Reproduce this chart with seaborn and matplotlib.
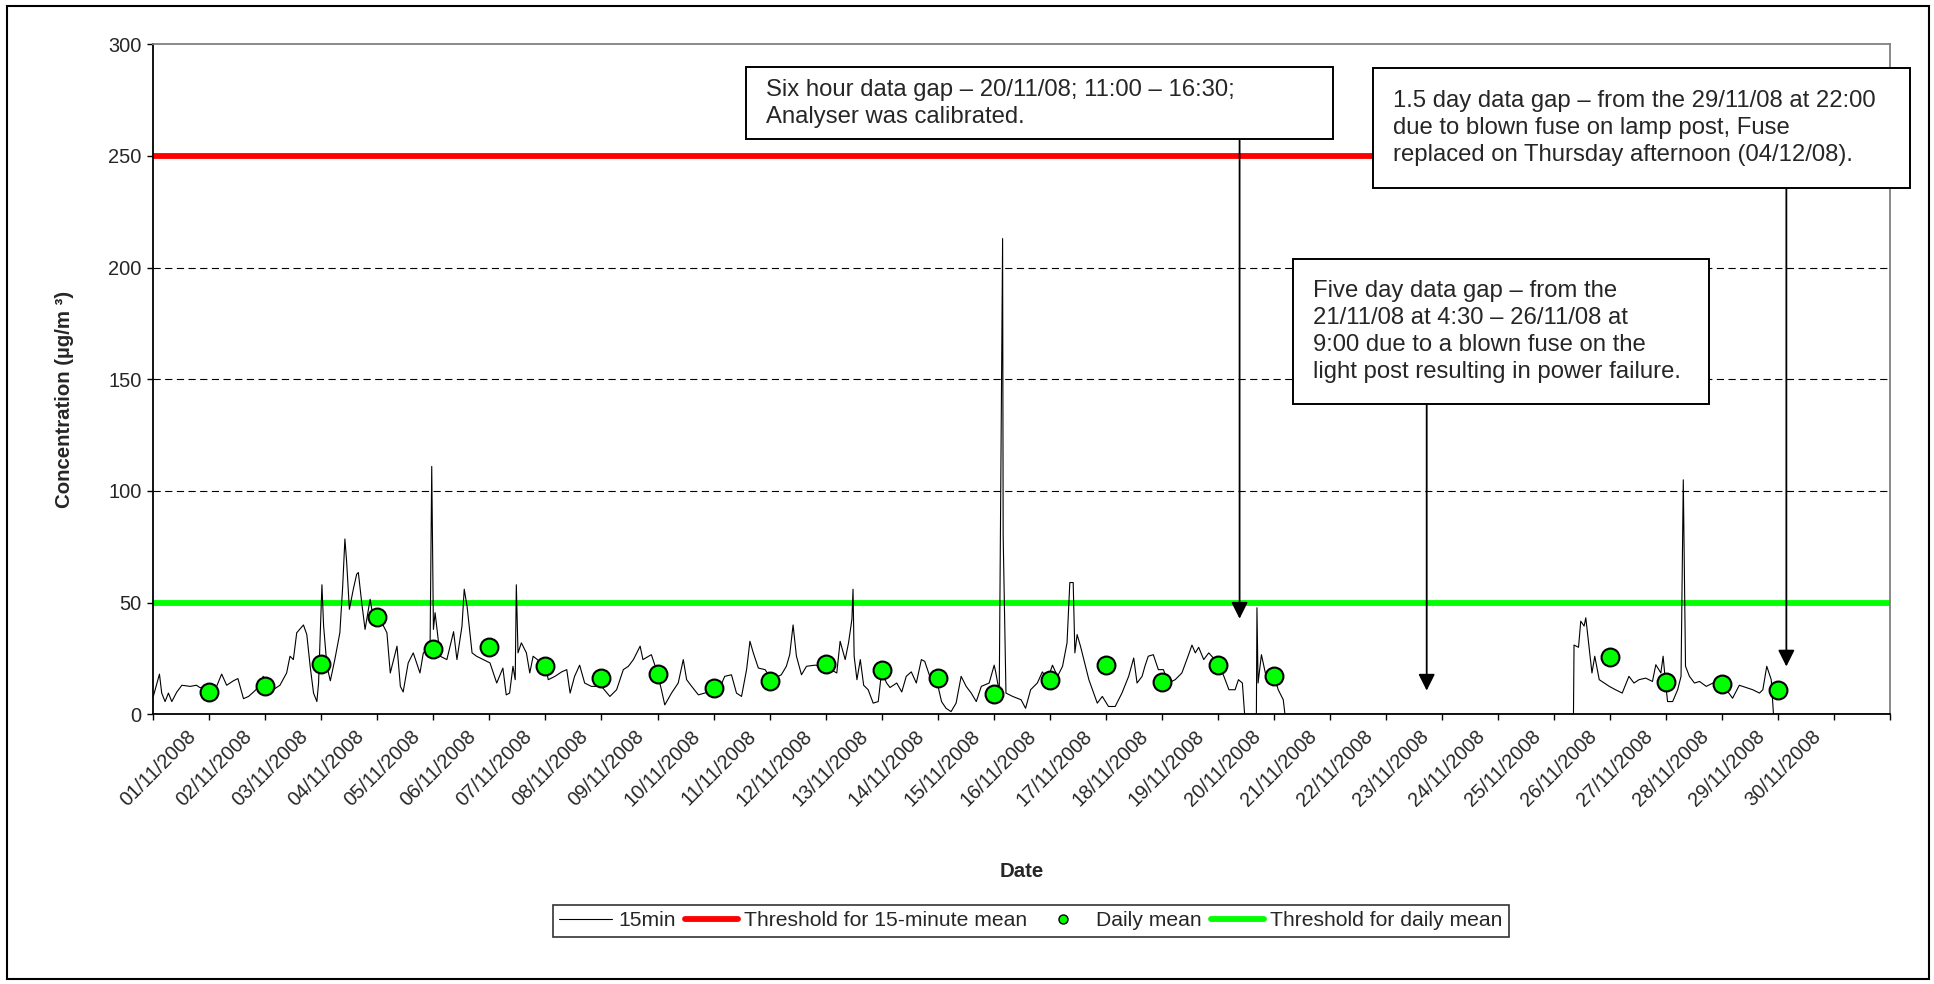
import matplotlib
matplotlib.use("Agg")
import matplotlib.pyplot as plt
from matplotlib.lines import Line2D
from matplotlib.patches import Rectangle
from matplotlib.transforms import ScaledTranslation
import seaborn as sns

# 15-minute concentrations, x = days from 01/11/2008 00:00
# (zeros are the data gaps, the logger wrote 0 while the analyser was off)
t_15min = [
    0.00, 0.11, 0.15, 0.21, 0.27, 0.33, 0.42, 0.51, 0.66, 0.77, 0.83, 1.00, 1.13, 1.22, 1.31,
    1.43, 1.51, 1.61, 1.70, 1.79, 1.91, 1.96, 2.14, 2.26, 2.38, 2.44, 2.50, 2.56, 2.68, 2.74,
    2.80, 2.86, 2.92, 2.95, 3.01, 3.04, 3.10, 3.16, 3.24, 3.33, 3.38, 3.42, 3.45, 3.50, 3.57,
    3.63, 3.66, 3.72, 3.78, 3.87, 3.93, 4.05, 4.17, 4.23, 4.35, 4.41, 4.46, 4.55, 4.64, 4.76,
    4.82, 4.94, 4.97, 5.00, 5.03, 5.12, 5.24, 5.36, 5.42, 5.51, 5.55, 5.60, 5.69, 5.77, 5.89,
    6.01, 6.13, 6.24, 6.30, 6.36, 6.42, 6.46, 6.48, 6.51, 6.57, 6.66, 6.72, 6.78, 6.93, 7.00,
    7.05, 7.17, 7.29, 7.38, 7.44, 7.52, 7.61, 7.70, 7.82, 8.00, 8.15, 8.27, 8.39, 8.48, 8.57,
    8.69, 8.74, 8.89, 8.98, 9.07, 9.13, 9.25, 9.37, 9.46, 9.52, 9.61, 9.73, 9.91, 9.99, 10.08,
    10.20, 10.32, 10.41, 10.50, 10.59, 10.65, 10.71, 10.80, 10.92, 11.04, 11.21, 11.30, 11.36,
    11.42, 11.48, 11.57, 11.66, 11.81, 11.99, 12.20, 12.26, 12.35, 12.41, 12.47, 12.49, 12.51,
    12.56, 12.62, 12.68, 12.76, 12.85, 12.94, 12.97, 13.00, 13.09, 13.15, 13.27, 13.36, 13.44,
    13.53, 13.62, 13.71, 13.77, 13.86, 13.98, 14.07, 14.15, 14.24, 14.33, 14.42, 14.51, 14.60,
    14.69, 14.78, 14.92, 15.01, 15.04, 15.10, 15.16, 15.17, 15.22, 15.34, 15.49, 15.57, 15.66,
    15.78, 15.87, 15.96, 16.05, 16.14, 16.23, 16.31, 16.36, 16.42, 16.45, 16.49, 16.55, 16.61,
    16.70, 16.85, 16.94, 17.05, 17.17, 17.29, 17.41, 17.50, 17.56, 17.65, 17.70, 17.76, 17.85,
    17.94, 18.03, 18.12, 18.24, 18.36, 18.47, 18.54, 18.60, 18.66, 18.75, 18.84, 19.00, 19.11,
    19.20, 19.31, 19.37, 19.44, 19.48, 19.69, 19.70, 19.72, 19.78, 19.85, 19.99, 20.08, 20.17,
    20.20, 25.35, 25.36, 25.44, 25.48, 25.54, 25.57, 25.62, 25.68, 25.73, 25.81, 25.90, 25.99,
    26.10, 26.22, 26.34, 26.43, 26.52, 26.64, 26.76, 26.82, 26.91, 26.95, 27.00, 27.03, 27.12,
    27.21, 27.27, 27.31, 27.35, 27.42, 27.51, 27.60, 27.72, 27.84, 27.96, 28.08, 28.19, 28.31,
    28.43, 28.55, 28.67, 28.73, 28.80, 28.88, 28.92, 31.00,
]
c_15min = [
    8, 18, 9.5, 5.7, 9.5, 5.7, 10, 13, 12.5, 13, 12, 11, 12.5, 18, 13,
    15, 16, 7, 8, 10, 13, 17, 11, 13, 18.5, 26, 24.5, 36.5, 40, 35.7,
    21.5, 9.5, 5.7, 14, 58, 39.5, 21.5, 15, 24.5, 36.5, 57, 78.5, 68.7, 47, 56,
    62.7, 63.5, 50, 38, 51.5, 42.5, 42.5, 36.5, 18.5, 30.5, 12.5, 10, 23, 27.5, 18.5,
    27.5, 29, 111, 38, 45.5, 26, 24.5, 37, 24.5, 39.5, 56, 48.5, 27.5, 26, 24.5,
    23, 14, 20.7, 8.7, 9.5, 21.5, 15.5, 58, 27.5, 32, 27.5, 18.5, 26, 23, 21.5,
    15.5, 17, 19, 20, 9.5, 17, 22, 14, 12.5, 12.5, 8, 11, 20, 21.5, 24.5,
    30.5, 24.5, 26.7, 20, 11, 4.2, 9.5, 14, 24.5, 15.5, 12.5, 8.7, 10, 8, 10,
    17, 17.7, 9.5, 8, 20, 32.7, 27.5, 20.7, 20, 15.5, 17.7, 21.5, 26.7,
    40, 26, 17.7, 21.5, 22, 21.5, 18.5, 32.7, 24.5, 32, 42.5, 56, 26,
    15.5, 24.5, 13, 11, 5, 5.7, 12.5, 19, 14, 12, 14, 10, 17,
    19, 14, 24.5, 23.7, 17, 15.5, 5.7, 2.7, 1.2, 5, 17, 12.5, 9.5,
    5.7, 12.5, 14, 22, 18.5, 10, 213, 80, 9.5, 8, 6.5, 2.7, 11,
    14, 19, 15.5, 22, 17, 21.5, 32, 59, 59, 27.5, 35.7, 30.5, 24.5,
    15.5, 5, 8, 3.5, 3.5, 9.5, 17, 25.2, 14, 17, 21.5, 26, 26.7,
    20, 20, 14, 15.5, 18.5, 26, 31, 27.5, 30, 24.5, 27.5, 23, 17,
    11, 11, 15.5, 14, 0, 0, 47.7, 14, 26.7, 18.5, 18.5, 11, 6.5,
    0, 0, 31, 30, 41.7, 39.5, 43.2, 32, 18.5, 26, 15.5, 14, 12.5,
    11, 9.5, 17, 14, 15.5, 16.2, 14.7, 22.2, 18.5, 26, 12.5, 5.7, 5.7,
    11, 17, 105, 21.5, 17, 14, 14.7, 12.5, 14, 12.5, 11, 7.2, 13,
    12, 11, 9.5, 11, 21.5, 15.5, 0, 0,
]

# daily means, drawn on the day ticks as in the original sheet
mean_days = [1, 2, 3, 4, 5, 6, 7, 8, 9, 10, 11, 12, 13, 14, 15, 16, 17, 18, 19, 20, 26, 27, 28, 29]
mean_vals = [9.9, 12.7, 22.3, 43.4, 29.4, 30.3, 21.5, 16.2, 18.1, 11.8, 15.1, 22.3,
             19.7, 16.1, 9.2, 15.2, 22.2, 14.3, 22.2, 17.0, 25.7, 14.3, 13.4, 10.7]

threshold_15min = 250
threshold_daily = 50

day_ticks = list(range(0, 32))
day_labels = [""] + [f"{d:02d}/11/2008" for d in range(1, 31)] + [""]

notes = [
    "Six hour data gap \u2013 20/11/08; 11:00 \u2013 16:30;\nAnalyser was calibrated.",
    "1.5 day data gap \u2013 from the 29/11/08 at 22:00\ndue to blown fuse on lamp post, Fuse\n"
    "replaced on Thursday afternoon (04/12/08).",
    "Five day data gap \u2013 from the\n21/11/08 at 4:30 \u2013 26/11/08 at\n"
    "9:00 due to a blown fuse on the\nlight post resulting in power failure.",
]
arrow_days = [19.39, 29.15, 22.73]
arrow_tips = [42.8, 21.4, 10.6]

W, H = 1934, 984

sns.set_style("ticks")
plt.rcParams["font.family"] = ["Liberation Sans", "DejaVu Sans"]

fig = plt.figure(figsize=(W / 100, H / 100), dpi=100)
ax = fig.add_axes([153.3 / W, 1 - 714.3 / H, 1736.7 / W, 670 / H])

sns.lineplot(x=t_15min, y=c_15min, ax=ax, color="black", linewidth=0.8,
             estimator=None, sort=False, legend=False, zorder=3)
ax.axhline(threshold_15min, color="#FF0000", lw=4.2, zorder=2, solid_capstyle="round")
ax.axhline(threshold_daily, color="#00FF00", lw=4.2, zorder=2, solid_capstyle="round")
sns.scatterplot(x=mean_days, y=mean_vals, ax=ax, s=165, color="#00FF00",
                edgecolor="black", linewidth=1.5, legend=False, zorder=5)

ax.set_xlim(0, 31)
ax.set_ylim(0, 300)
ax.set_yticks(range(0, 301, 50))
ax.set_xticks(day_ticks)
ax.set_xticklabels(day_labels, rotation=45, ha="right", va="center", rotation_mode="anchor")
ax.tick_params(axis="both", direction="out", length=4.5, width=1, color="black",
               labelsize=14.4, pad=4)
ax.tick_params(axis="x", pad=9)
# Excel put the date labels a little left of their tick
shift = ScaledTranslation(-0.16, 0, fig.dpi_scale_trans)
for lab in ax.get_xticklabels():
    lab.set_transform(lab.get_transform() + shift)

ax.yaxis.grid(True, color="black", lw=0.8, linestyle=(0, (6.5, 4)))
gl = ax.yaxis.get_gridlines()
gl[0].set_visible(False)
gl[-1].set_visible(False)

for side in ["left", "bottom"]:
    ax.spines[side].set_color("black")
    ax.spines[side].set_linewidth(1.3)
for side in ["top", "right"]:
    ax.spines[side].set_color("#808080")
    ax.spines[side].set_linewidth(1.3)

ax.set_xlabel("Date", fontsize=14.7, fontweight="bold", labelpad=0)
ax.xaxis.set_label_coords(0.5, -(862 - 714.3) / 670)
ax.set_ylabel("Concentration (\u00b5g/m \u00b3)", fontsize=14.7, fontweight="bold")
ax.yaxis.set_label_coords(-(153.3 - 73.7) / 1736.7, 0.47)

# annotation boxes, in figure pixels (left, top, right, bottom)
boxes = [(746, 67.3, 1332.6, 139.3), (1373, 67.7, 1910, 187.7), (1293, 259.3, 1708.5, 404)]
for (l, t, r, b), note in zip(boxes, notes):
    fig.patches.append(Rectangle((l / W, 1 - b / H), (r - l) / W, (b - t) / H,
                                 transform=fig.transFigure, facecolor="white",
                                 edgecolor="black", lw=1.4, zorder=10))
    fig.text((l + 20) / W, 1 - (t + b) / 2 / H, note, ha="left", va="center",
             fontsize=17.2, linespacing=1.3, zorder=11)

for (l, t, r, b), xd, tip in zip(boxes, arrow_days, arrow_tips):
    y0 = (714.3 - b) / 670
    ax.annotate("", xy=(xd, tip), xycoords="data", xytext=(xd, y0),
                textcoords=("data", "axes fraction"),
                arrowprops=dict(arrowstyle="-|>,head_length=0.5,head_width=0.25",
                                mutation_scale=20, color="black", lw=1.3,
                                shrinkA=0, shrinkB=0), zorder=12)

handles = [
    Line2D([], [], color="black", lw=0.8),
    Line2D([], [], color="#FF0000", lw=4.2, solid_capstyle="round"),
    Line2D([], [], marker="o", linestyle="none", markersize=6.5,
           markerfacecolor="#00FF00", markeredgecolor="black", markeredgewidth=1),
    Line2D([], [], color="#00FF00", lw=4.2, solid_capstyle="round"),
]
labels = ["15min", "Threshold for 15-minute mean", "Daily mean", "Threshold for daily mean"]
leg = fig.legend(handles, labels, loc="center", bbox_to_anchor=(1031 / W, 1 - 921 / H),
                 ncol=4, fontsize=15.2, frameon=True, fancybox=False, edgecolor="black",
                 handlelength=2.5, handletextpad=0.3, columnspacing=0.45, borderpad=0.3,
                 borderaxespad=0)
leg.get_frame().set_linewidth(1.2)

# outer chart border
fig.patches.append(Rectangle((7 / W, 1 - 979 / H), 1922 / W, 973 / H,
                             transform=fig.transFigure, fill=False,
                             edgecolor="black", lw=1.5))

fig.savefig("out.png", dpi=100)
